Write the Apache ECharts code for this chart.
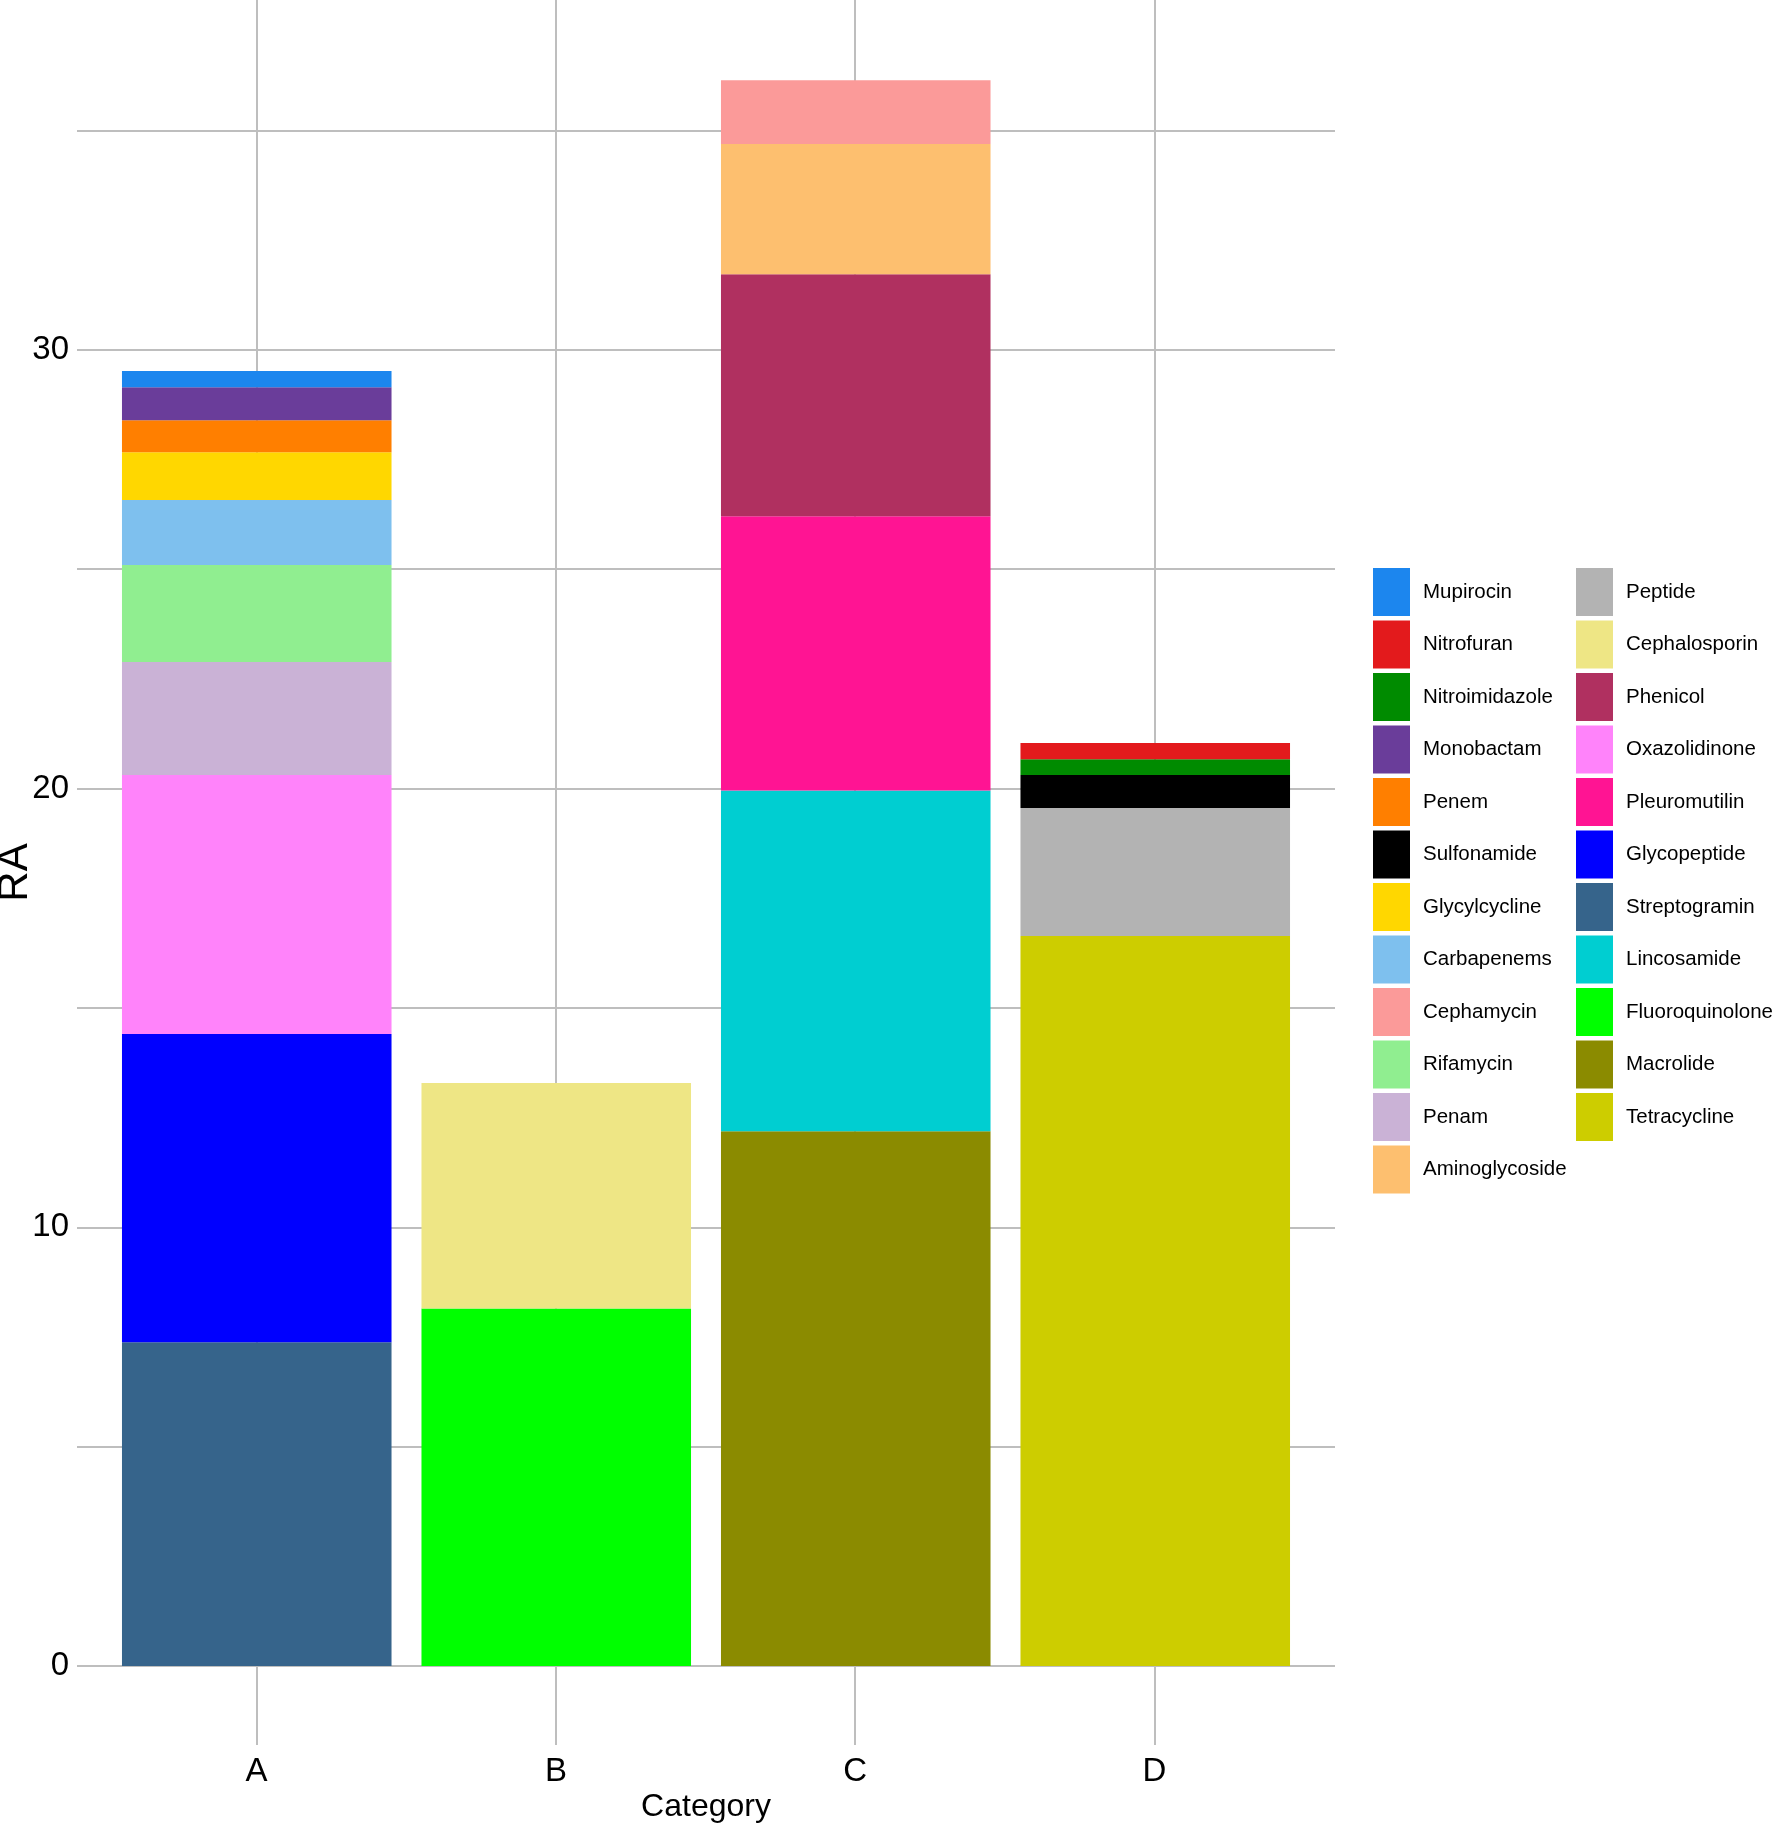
<!DOCTYPE html>
<html>
<head>
<meta charset="utf-8">
<title>RA by Category</title>
<script src="https://cdn.jsdelivr.net/npm/echarts@6/dist/echarts.min.js"></script>
<style>
  html, body { margin: 0; padding: 0; background: #fff; }
  #main { width: 1776px; height: 1828px; }
</style>
</head>
<body>
<div id="main"></div>
<script>
// categories on the x axis
const categories = ['A', 'B', 'C', 'D'];

// antibiotic classes, in legend order (first one sits on top of each stack)
const classNames = [
  'Mupirocin', 'Nitrofuran', 'Nitroimidazole', 'Monobactam', 'Penem', 'Sulfonamide',
  'Glycylcycline', 'Carbapenems', 'Cephamycin', 'Rifamycin', 'Penam', 'Aminoglycoside',
  'Peptide', 'Cephalosporin', 'Phenicol', 'Oxazolidinone', 'Pleuromutilin', 'Glycopeptide',
  'Streptogramin', 'Lincosamide', 'Fluoroquinolone', 'Macrolide', 'Tetracycline'
];
const classColors = [
  '#1C86EE', '#E31A1C', '#008B00', '#6A3D9A', '#FF7F00', '#000000',
  '#FFD700', '#7EC0EE', '#FB9A99', '#90EE90', '#CAB2D6', '#FDBF6F',
  '#B3B3B3', '#EEE685', '#B03060', '#FF83FA', '#FF1493', '#0000FF',
  '#36648B', '#00CED1', '#00FF00', '#8B8B00', '#CDCD00'
];

// RA per class, same order as classNames
const raA = [0.37, 0, 0, 0.75, 0.73, 0, 1.09, 1.48, 0, 2.21, 2.58, 0,
             0, 0, 0, 5.90, 0, 7.03, 7.38, 0, 0, 0, 0];
const raB = [0, 0, 0, 0, 0, 0, 0, 0, 0, 0, 0, 0,
             0, 5.14, 0, 0, 0, 0, 0, 0, 8.15, 0, 0];
const raC = [0, 0, 0, 0, 0, 0, 0, 0, 1.45, 0, 0, 2.97,
             0, 0, 5.52, 0, 6.25, 0, 0, 7.77, 0, 12.19, 0];
const raD = [0, 0.37, 0.36, 0, 0, 0.75, 0, 0, 0, 0, 0, 0,
             2.92, 0, 0, 0, 0, 0, 0, 0, 0, 0, 16.64];

// y axis: gridlines every 5, labels every 10
const yTickStep = 5;
const yLabelValues = [0, 10, 20, 30];

const FONT = '"Liberation Sans", Arial, sans-serif';
const GRID_COLOR = '#BEBEBE';

const myChart = echarts.init(document.getElementById('main'));

// stack from the bottom up, so series go in reverse legend order
const series = [];
for (let i = classNames.length - 1; i >= 0; i--) {
  series.push({
    name: classNames[i],
    type: 'bar',
    stack: 'ra',
    xAxisIndex: 2,
    yAxisIndex: 2,
    barWidth: '90%',
    itemStyle: { color: classColors[i] },
    emphasis: { disabled: true },
    data: [raA[i], raB[i], raC[i], raD[i]]
  });
}

const legendBase = {
  orient: 'vertical',
  top: 568,
  padding: 0,
  itemWidth: 37,
  itemHeight: 48,
  itemGap: 4.5,
  icon: 'rect',
  selectedMode: false,
  textStyle: { fontFamily: FONT, fontSize: 20.5, color: '#000', padding: [7, 0, 0, 8] }
};

const option = {
  backgroundColor: '#fff',
  animation: false,
  legend: [
    Object.assign({}, legendBase, { left: 1373, data: classNames.slice(0, 12) }),
    Object.assign({}, legendBase, { left: 1576, data: classNames.slice(12) })
  ],
  grid: [
    // 0: vertical gridlines + category labels
    { left: 256.6, width: 897.9, top: 0, height: 1745, outerBoundsMode: 'none' },
    // 1: horizontal gridlines + value labels
    { left: 77, width: 1258, top: 130.5, height: 1535.5, outerBoundsMode: 'none' },
    // 2: the bars
    { left: 107, width: 1198, top: 0, height: 1666, outerBoundsMode: 'none' }
  ],
  xAxis: [
    {
      gridIndex: 0, type: 'category', data: categories, boundaryGap: false,
      axisLine: { show: false }, axisTick: { show: false },
      axisLabel: { margin: 10, fontFamily: FONT, fontSize: 33, color: '#000' },
      splitLine: { show: true, lineStyle: { color: GRID_COLOR, width: 2 } }
    },
    {
      gridIndex: 1, type: 'value', min: 0, max: 1,
      axisLine: { show: false }, axisTick: { show: false }, axisLabel: { show: false },
      splitLine: { show: false },
      name: 'Category', nameLocation: 'middle', nameGap: 125,
      nameTextStyle: { fontFamily: FONT, fontSize: 32, color: '#000' }
    },
    {
      gridIndex: 2, type: 'category', data: categories,
      show: false
    }
  ],
  yAxis: [
    {
      gridIndex: 0, type: 'value', min: 0, max: 1,
      axisLine: { show: false }, axisTick: { show: false }, axisLabel: { show: false },
      splitLine: { show: false },
      name: 'RA', nameLocation: 'middle', nameGap: 220,
      nameTextStyle: { fontFamily: FONT, fontSize: 42, color: '#000' }
    },
    {
      gridIndex: 1, type: 'value', min: 0, max: 35, interval: yTickStep,
      axisLine: { show: false }, axisTick: { show: false },
      axisLabel: {
        margin: 8, fontFamily: FONT, fontSize: 33, color: '#000',
        formatter: function (v) { return yLabelValues.indexOf(v) >= 0 ? String(v) : ''; }
      },
      splitLine: { show: true, lineStyle: { color: GRID_COLOR, width: 2 } }
    },
    {
      gridIndex: 2, type: 'value', min: 0, max: 37.98,
      show: false, splitLine: { show: false }
    }
  ],
  series: series
};

myChart.setOption(option);
window.onresize = function () {
  myChart.resize();
};
</script>
</body>
</html>
